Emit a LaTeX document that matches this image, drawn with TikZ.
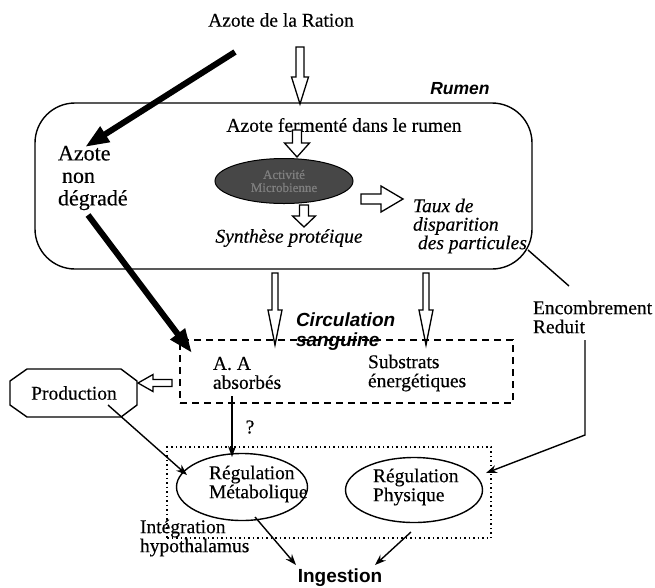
\documentclass[tikz,border=0pt]{standalone}
\usepackage{fontspec}
\setmainfont{Liberation Serif}[UprightFeatures={FakeBold=0.35},ItalicFeatures={FakeBold=0.35}]
\newfontfamily\arialfam{Liberation Sans}
\usetikzlibrary{arrows.meta,calc,shapes.geometric}

\newcommand{\hollowarr}[5]{%
  \path ($(#2)!#5!(#1)$) coordinate (hH);
  \draw[hollowst] ($(#1)!#3!90:(#2)$) -- ($(hH)!#3!90:(#2)$) -- ($(hH)!#4!90:(#2)$) -- (#2)
    -- ($(hH)!#4!-90:(#2)$) -- ($(hH)!#3!-90:(#2)$) -- ($(#1)!#3!-90:(#2)$) -- cycle;
}

\begin{document}
\begin{tikzpicture}[x=1pt,y=-1pt,
  every node/.style={inner sep=0pt, outer sep=0pt},
  serif/.style={font=\fontsize{19.5}{19}\selectfont, align=left},
  ital/.style={font=\fontsize{19.5}{18.5}\selectfont\itshape, align=left},
  sansbi/.style={font=\arialfam\fontsize{19}{20}\selectfont\bfseries\itshape, align=left},
  hollowst/.style={draw=black, fill=white, line width=1.3pt, line join=miter},
  thickarr/.style={line width=6pt, -{Triangle[length=24pt,width=17pt]}},
  thinarr/.style={line width=1.4pt, -{Stealth[length=11pt,width=8pt]}},
  plain/.style={line width=1.4pt},
  ell/.style={ellipse, draw, line width=1.4pt}
]
\useasboundingbox (0,0) rectangle (655,587);

% top
\node[serif] (ration) at (281,20) {Azote de la Ration};
\node[draw, line width=1.4pt, rounded corners=40pt, minimum width=497pt, minimum height=166pt] (rumen) at (283.5,186) {};
\node[sansbi, font=\arialfam\fontsize{17.5}{18}\selectfont\bfseries\itshape] (rumenlbl) at (460,89) {Rumen};
\node[serif] (ferm) at (344,125) {Azote fermenté dans le rumen};
\node[ellipse, fill=black!72, draw=black, line width=1pt, minimum width=138pt, minimum height=45pt] (micro) at (284,181) {};
\node[font=\fontsize{13}{13}\selectfont, align=center, text=black!50] (microtxt) at (284,181) {Activité\\Microbienne};
\node[ital] (synth) at (289,238) {Synthèse protéique};
\node[ital, anchor=west] (taux) at (413,226) {Taux de\\disparition\\\hspace*{5pt}des particules};
\node[font=\fontsize{22}{22.5}\selectfont, align=left, anchor=west] (nondeg) at (58,178) {Azote\\\hspace*{4pt}non\\dégradé};

% hollow arrows
\coordinate (a1s) at (300,47);  \coordinate (a1e) at (300,104);
\hollowarr{a1s}{a1e}{4pt}{8.5pt}{27pt}
\coordinate (a2s) at (297,130); \coordinate (a2e) at (297,157);
\hollowarr{a2s}{a2e}{4.5pt}{12.5pt}{14pt}
\coordinate (a3s) at (304,205); \coordinate (a3e) at (304,227);
\hollowarr{a3s}{a3e}{4.5pt}{11.5pt}{11pt}
\coordinate (a4s) at (361,199); \coordinate (a4e) at (403,199);
\hollowarr{a4s}{a4e}{5pt}{13pt}{22pt}
\coordinate (a5s) at (275,273); \coordinate (a5e) at (275,345);
\hollowarr{a5s}{a5e}{3pt}{7pt}{35pt}
\coordinate (a6s) at (426,273); \coordinate (a6e) at (426,345);
\hollowarr{a6s}{a6e}{3pt}{7pt}{35pt}
\coordinate (a7s) at (172,383); \coordinate (a7e) at (138,383);
\hollowarr{a7s}{a7e}{3.5pt}{8.5pt}{15pt}

% thick arrows
\coordinate (t1s) at (235,52); \coordinate (t1e) at (85,147);
\draw[thickarr] (t1s) -- (t1e);
\coordinate (t2s) at (88,215); \coordinate (t2e) at (192,353);
\draw[thickarr] (t2s) -- (t2e);

% blood
\node[draw, line width=1.4pt, dash pattern=on 7pt off 5pt, minimum width=333pt, minimum height=63pt] (blood) at (346.5,371.5) {};
\node[sansbi, anchor=west, font=\arialfam\fontsize{19}{20}\selectfont\bfseries\itshape] (circ) at (296,332) {Circulation\\sanguine};
\node[serif, anchor=west] (aa) at (213,373) {A. A\\absorbés};
\node[serif, anchor=west] (subs) at (368,373) {Substrats\\énergétiques};

% production
\node[serif] (prod) at (74,393) {Production};
\draw[plain] (10,381) -- (27,369) -- (121,369) -- (137,381) -- (137,405) -- (121,417) -- (27,417) -- (10,405) -- cycle;

% regulation
\node[draw, line width=1.5pt, dash pattern=on 1.5pt off 3pt, minimum width=324pt, minimum height=91pt] (integ) at (329,492.5) {};
\node[ell, minimum width=131pt, minimum height=67pt] (rm) at (242,487) {};
\node[serif, anchor=west] (rmtxt) at (209,484) {Régulation\\Métabolique};
\node[ell, minimum width=137pt, minimum height=65pt] (rp) at (414,490) {};
\node[serif, anchor=west] (rptxt) at (373,487) {Régulation\\Physique};
\node[serif, anchor=west] (hypo) at (140,538) {Intégration\\hypothalamus};
\node[font=\arialfam\fontsize{19}{20}\selectfont\bfseries] (ing) at (340,578) {Ingestion};
\node[serif] (qm) at (250,427) {?};
\node[serif, anchor=west] (enc) at (533,317) {Encombrement\\Reduit};

% thin connectors
\coordinate (p1) at (108,405); \coordinate (p2) at (187,475);
\draw[thinarr] (p1) -- (p2);
\coordinate (q1) at (232,396); \coordinate (q2) at (232,457);
\draw[thinarr] (q1) -- (q2);
\coordinate (r1) at (255,517); \coordinate (r2) at (296,565);
\draw[thinarr] (r1) -- (r2);
\coordinate (s1) at (411,532); \coordinate (s2) at (375,565);
\draw[thinarr] (s1) -- (s2);
\coordinate (e1) at (528,250); \coordinate (e2) at (569,286);
\draw[plain] (e1) -- (e2);
\coordinate (f1) at (585,340); \coordinate (f2) at (585,435); \coordinate (f3) at (486,473);
\draw[thinarr] (f1) -- (f2) -- (f3);
\end{tikzpicture}
\end{document}
